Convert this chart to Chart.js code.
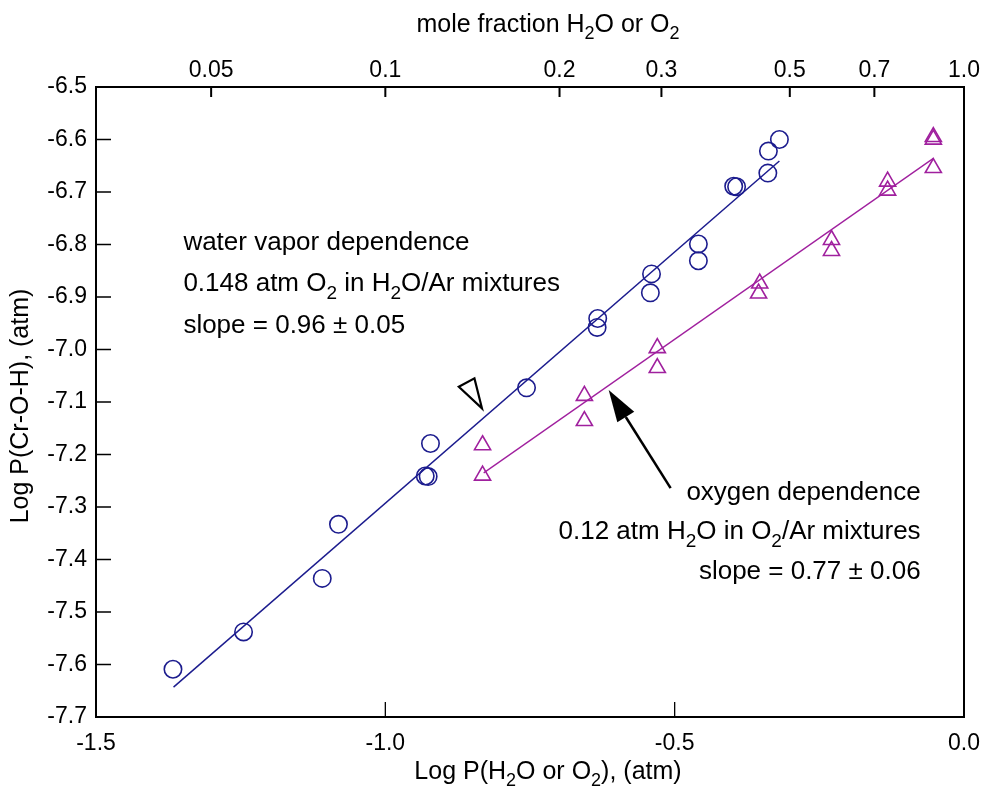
<!DOCTYPE html>
<html>
<head>
<meta charset="utf-8">
<script src="https://cdn.jsdelivr.net/npm/chart.js@4.4.1/dist/chart.umd.min.js"></script>
<style>
html, body { margin: 0; padding: 0; background: #fff; }
#chart { display: block; }
</style>
</head>
<body>
<canvas id="chart" width="984" height="791"></canvas>
<script>
// water vapor dependence, circles
const waterX = [-1.367, -1.245, -1.109, -1.081, -0.931, -0.926, -0.922, -0.756, -0.633, -0.634,
	-0.540, -0.542, -0.459, -0.459, -0.398, -0.393, -0.339, -0.338, -0.319]
const waterY = [-7.609, -7.538, -7.436, -7.333, -7.241, -7.242, -7.179, -7.073, -6.941, -6.958,
	-6.856, -6.892, -6.799, -6.831, -6.689, -6.690, -6.664, -6.622, -6.600]

// oxygen dependence, triangles
const oxyX = [-0.832, -0.832, -0.656, -0.656, -0.530, -0.530, -0.353, -0.355, -0.229, -0.229,
	-0.132, -0.132, -0.053, -0.053, -0.053]
const oxyY = [-7.182, -7.240, -7.088, -7.136, -6.997, -7.035, -6.874, -6.893, -6.791, -6.812,
	-6.680, -6.697, -6.654, -6.595, -6.600]

// fitted lines (end points)
const waterFitX = [-1.366, -0.319]
const waterFitY = [-7.643, -6.641]
const oxyFitX = [-0.830, -0.053]
const oxyFitY = [-7.235, -6.636]

// axis ticks
const xTicks = [-1.5, -1.0, -0.5, 0.0]
const yTicks = [-6.5, -6.6, -6.7, -6.8, -6.9, -7.0, -7.1, -7.2, -7.3, -7.4, -7.5, -7.6, -7.7]
const moleLabels = ['0.05', '0.1', '0.2', '0.3', '0.5', '0.7', '1.0']

const BLUE = '#1c1c8e'
const MAGENTA = '#a0209e'
const FONT = '"Liberation Sans", Arial, Helvetica, sans-serif'
const TICK_SIZE = 23
const TITLE_SIZE = 25
const NOTE_SIZE = 26

const toPoints = (xs, ys) => xs.map((x, i) => ({x: x, y: ys[i]}))

// text with subscripts: parts are [text, isSub]
function richText(ctx, parts, x, y, align, size) {
	const base = size + 'px ' + FONT
	const small = Math.round(size * 0.72) + 'px ' + FONT
	let w = 0
	parts.forEach(p => {
		ctx.font = p[1] ? small : base
		w += ctx.measureText(p[0]).width
	})
	let cx = align === 'center' ? x - w / 2 : (align === 'right' ? x - w : x)
	ctx.textAlign = 'left'
	ctx.textBaseline = 'middle'
	parts.forEach(p => {
		ctx.font = p[1] ? small : base
		ctx.fillText(p[0], cx, p[1] ? y + size * 0.38 : y)
		cx += ctx.measureText(p[0]).width
	})
}

// annotations in data units
const notesLeft = [
	[['water vapor dependence']],
	[['0.148 atm O'], ['2', 1], [' in H'], ['2', 1], ['O/Ar mixtures']],
	[['slope = 0.96 \u00b1 0.05']]
]
const notesLeftX = -1.349
const notesLeftY = [-6.796, -6.875, -6.954]
const notesRight = [
	[['oxygen dependence']],
	[['0.12 atm H'], ['2', 1], ['O in O'], ['2', 1], ['/Ar mixtures']],
	[['slope = 0.77 \u00b1 0.06']]
]
const notesRightX = -0.075
const notesRightY = [-7.273, -7.347, -7.423]
const arrowTail = {x: -0.507, y: -7.264}
const arrowTip = {x: -0.614, y: -7.077}
const openHead = [{x: -0.873, y: -7.071}, {x: -0.846, y: -7.055}, {x: -0.833, y: -7.112}]

const framePlugin = {
	id: 'frame',
	afterDatasetsDraw(chart) {
		const ctx = chart.ctx
		const a = chart.chartArea
		const sx = chart.scales.x, sy = chart.scales.y
		ctx.save()
		ctx.strokeStyle = '#000'
		ctx.lineWidth = 2
		ctx.strokeRect(a.left, a.top, a.right - a.left, a.bottom - a.top)

		// inward ticks
		ctx.lineWidth = 1.3
		ctx.beginPath()
		yTicks.forEach(v => {
			const py = sy.getPixelForValue(v)
			ctx.moveTo(a.left, py)
			ctx.lineTo(a.left + 15, py)
		})
		xTicks.forEach(v => {
			const px = sx.getPixelForValue(v)
			ctx.moveTo(px, a.bottom)
			ctx.lineTo(px, a.bottom - 15)
		})
		ctx.stroke()
		ctx.lineWidth = 2
		ctx.beginPath()
		moleLabels.forEach(m => {
			const px = sx.getPixelForValue(Math.log10(parseFloat(m)))
			ctx.moveTo(px, a.top)
			ctx.lineTo(px, a.top + 10)
		})
		ctx.stroke()

		// open arrowhead
		ctx.lineWidth = 2.2
		ctx.lineJoin = 'miter'
		ctx.beginPath()
		openHead.forEach((p, i) => {
			const px = sx.getPixelForValue(p.x), py = sy.getPixelForValue(p.y)
			if (i === 0) ctx.moveTo(px, py)
			else ctx.lineTo(px, py)
		})
		ctx.closePath()
		ctx.stroke()

		// filled arrow
		const tx = sx.getPixelForValue(arrowTail.x), ty = sy.getPixelForValue(arrowTail.y)
		const hx = sx.getPixelForValue(arrowTip.x), hy = sy.getPixelForValue(arrowTip.y)
		const ang = Math.atan2(hy - ty, hx - tx)
		const len = 32, half = 10
		const bx = hx - Math.cos(ang) * len, by = hy - Math.sin(ang) * len
		ctx.lineWidth = 2.5
		ctx.beginPath()
		ctx.moveTo(tx, ty)
		ctx.lineTo(bx, by)
		ctx.stroke()
		ctx.fillStyle = '#000'
		ctx.beginPath()
		ctx.moveTo(hx, hy)
		ctx.lineTo(bx - Math.sin(ang) * half, by + Math.cos(ang) * half)
		ctx.lineTo(bx + Math.sin(ang) * half, by - Math.cos(ang) * half)
		ctx.closePath()
		ctx.fill()

		// notes
		ctx.fillStyle = '#000'
		notesLeft.forEach((parts, i) => {
			richText(ctx, parts, sx.getPixelForValue(notesLeftX), sy.getPixelForValue(notesLeftY[i]), 'left', NOTE_SIZE)
		})
		notesRight.forEach((parts, i) => {
			richText(ctx, parts, sx.getPixelForValue(notesRightX), sy.getPixelForValue(notesRightY[i]), 'right', NOTE_SIZE)
		})

		// axis titles
		const midX = (a.left + a.right) / 2 + 18
		richText(ctx, [['mole fraction H'], ['2', 1], ['O or O'], ['2', 1]], midX, 25, 'center', TITLE_SIZE)
		richText(ctx, [['Log P(H'], ['2', 1], ['O or O'], ['2', 1], ['), (atm)']], midX, 772, 'center', TITLE_SIZE)
		ctx.translate(21, (a.top + a.bottom) / 2 + 4)
		ctx.rotate(-Math.PI / 2)
		richText(ctx, [['Log P(Cr-O-H), (atm)']], 0, 0, 'center', TITLE_SIZE)
		ctx.restore()
	}
}

const tickFont = {family: FONT, size: TICK_SIZE}

// drop the label overflow padding so the plot area keeps its width
const noSidePad = s => { s.paddingLeft = 0; s.paddingRight = 0 }

new Chart(document.getElementById('chart'), {
	type: 'scatter',
	data: {
		datasets: [
			{
				data: toPoints(waterX, waterY),
				pointStyle: 'circle', pointRadius: 8.7, borderWidth: 1.6,
				borderColor: BLUE, backgroundColor: 'rgba(0,0,0,0)'
			},
			{
				data: toPoints(waterFitX, waterFitY),
				showLine: true, pointRadius: 0, borderWidth: 1.5, borderColor: BLUE
			},
			{
				data: toPoints(oxyX, oxyY),
				pointStyle: 'triangle', pointRadius: 9.3, borderWidth: 1.6,
				borderColor: MAGENTA, backgroundColor: 'rgba(0,0,0,0)'
			},
			{
				data: toPoints(oxyFitX, oxyFitY),
				showLine: true, pointRadius: 0, borderWidth: 1.3, borderColor: MAGENTA
			}
		]
	},
	options: {
		responsive: false,
		animation: false,
		devicePixelRatio: 1,
		layout: {padding: {left: 0, right: 20, top: 0, bottom: 0}},
		plugins: {legend: {display: false}, tooltip: {enabled: false}},
		scales: {
			x: {
				type: 'linear', position: 'bottom', min: -1.5, max: 0,
				afterBuildTicks: s => { s.ticks = xTicks.map(v => ({value: v})) },
				afterFit: s => { s.height = 74; noSidePad(s) },
				ticks: {font: tickFont, color: '#000', padding: 13, maxRotation: 0, autoSkip: false,
					callback: v => v.toFixed(1)},
				grid: {display: false, drawTicks: false},
				border: {display: false}
			},
			x2: {
				type: 'linear', position: 'top', min: -1.5, max: 0,
				afterBuildTicks: s => { s.ticks = moleLabels.map(m => ({value: Math.log10(parseFloat(m))})) },
				afterFit: s => { s.height = 87; noSidePad(s) },
				ticks: {font: tickFont, color: '#000', padding: 3, maxRotation: 0, autoSkip: false,
					callback: (v, i) => moleLabels[i]},
				grid: {display: false, drawTicks: false},
				border: {display: false}
			},
			y: {
				type: 'linear', position: 'left', min: -7.7, max: -6.5,
				afterBuildTicks: s => { s.ticks = yTicks.map(v => ({value: v})) },
				afterFit: s => { s.width = 96 },
				ticks: {font: tickFont, color: '#000', padding: 9, autoSkip: false,
					callback: v => v.toFixed(1)},
				grid: {display: false, drawTicks: false},
				border: {display: false}
			}
		}
	},
	plugins: [framePlugin]
})
</script>
</body>
</html>
